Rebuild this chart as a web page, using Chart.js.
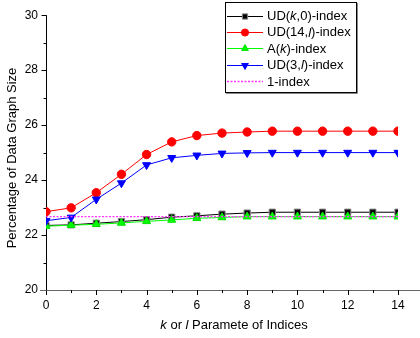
<!DOCTYPE html>
<html>
<head>
<meta charset="utf-8">
<script src="https://cdn.jsdelivr.net/npm/chart.js@4.4.1/dist/chart.umd.min.js"></script>
<style>
  html, body { margin: 0; padding: 0; background: #fff; }
  #wrap { width: 420px; height: 338px; }
</style>
</head>
<body>
<div id="wrap"><canvas id="indexChart" width="420" height="338"></canvas></div>
<script>
// parameter k or l
const params = [0, 1, 2, 3, 4, 5, 6, 7, 8, 9, 10, 11, 12, 13, 14];

// percentage of data graph size per index
const udK0 = [22.35, 22.37, 22.43, 22.49, 22.56, 22.65, 22.70, 22.76, 22.80, 22.83, 22.83, 22.83, 22.83, 22.83, 22.83];
const ud14L = [22.85, 22.99, 23.54, 24.21, 24.93, 25.39, 25.62, 25.71, 25.75, 25.78, 25.78, 25.78, 25.78, 25.78, 25.78];
const aK = [22.32, 22.36, 22.39, 22.44, 22.50, 22.55, 22.61, 22.64, 22.67, 22.67, 22.67, 22.67, 22.67, 22.67, 22.67];
const ud3L = [22.52, 22.64, 23.30, 23.89, 24.55, 24.81, 24.90, 24.97, 24.99, 25.00, 25.00, 25.00, 25.00, 25.00, 25.00];
const oneIndex = [22.67, 22.67, 22.67, 22.67, 22.67, 22.67, 22.67, 22.67, 22.67, 22.67, 22.67, 22.67, 22.67, 22.67, 22.67];

// legend labels, split into [text, italic] pieces
const legendLabels = [
  [['UD(', false], ['k', true], [',0)-index', false]],
  [['UD(14,', false], ['l', true], [')-index', false]],
  [['A(', false], ['k', true], [')-index', false]],
  [['UD(3,', false], ['l', true], [')-index', false]],
  [['1-index', false]]
];
const xTitle = [['k', true], [' or ', false], ['l', true], [' Paramete of Indices', false]];
const yTitle = 'Percentage of Data Graph Size';

const FONT = '"Liberation Sans", Arial, sans-serif';

function toPoints(arr) {
  return arr.map((v, i) => ({ x: params[i], y: v }));
}

function drawPieces(ctx, pieces, x, y, size) {
  for (const [txt, it] of pieces) {
    ctx.font = (it ? 'italic ' : '') + size + 'px ' + FONT;
    ctx.fillText(txt, x, y);
    x += ctx.measureText(txt).width;
  }
}

function piecesWidth(ctx, pieces, size) {
  let w = 0;
  for (const [txt, it] of pieces) {
    ctx.font = (it ? 'italic ' : '') + size + 'px ' + FONT;
    w += ctx.measureText(txt).width;
  }
  return w;
}

// axes lines, minor/major ticks, titles and the boxed legend
const decorations = {
  id: 'decorations',
  beforeDatasetsDraw(chart) {
    const ctx = chart.ctx;
    const xs = chart.scales.x, ys = chart.scales.y;
    const area = chart.chartArea;
    ctx.save();
    ctx.lineWidth = 1;
    // x axis
    ctx.strokeStyle = '#666';
    ctx.beginPath();
    ctx.moveTo(40, area.bottom + 0.5);
    ctx.lineTo(420, area.bottom + 0.5);
    ctx.stroke();
    for (let v = 0; v <= 14; v++) {
      const px = Math.round(xs.getPixelForValue(v)) + 0.5;
      const len = v % 2 === 0 ? 5 : 3;
      ctx.strokeStyle = '#000';
      ctx.beginPath();
      ctx.moveTo(px, area.bottom);
      ctx.lineTo(px, area.bottom + len);
      ctx.stroke();
    }
    // y axis
    ctx.strokeStyle = '#000';
    const ax = Math.round(area.left) + 0.5;
    ctx.beginPath();
    ctx.moveTo(ax, area.top);
    ctx.lineTo(ax, area.bottom);
    ctx.stroke();
    for (let v = 20; v <= 30; v++) {
      const py = Math.round(ys.getPixelForValue(v)) + 0.5;
      const len = v % 2 === 0 ? 5 : 3;
      ctx.strokeStyle = v === 20 ? '#666' : '#000';
      ctx.beginPath();
      ctx.moveTo(ax - len, py);
      ctx.lineTo(ax, py);
      ctx.stroke();
    }
    ctx.restore();
  },
  afterDraw(chart) {
    const ctx = chart.ctx;
    ctx.save();
    ctx.fillStyle = '#000';
    ctx.textBaseline = 'middle';
    // x title
    const w = piecesWidth(ctx, xTitle, 13);
    drawPieces(ctx, xTitle, 234 - w / 2, 325, 13);
    // y title
    ctx.translate(12, 158);
    ctx.rotate(-Math.PI / 2);
    ctx.font = '13px ' + FONT;
    ctx.textAlign = 'center';
    ctx.fillText(yTitle, 0, 0);
    ctx.restore();

    // legend box with a grey drop shadow
    ctx.save();
    ctx.fillStyle = '#fff';
    ctx.fillRect(225, 2, 131, 91);
    ctx.strokeStyle = '#000';
    ctx.lineWidth = 1;
    ctx.strokeRect(225.5, 2.5, 131, 90);
    ctx.strokeStyle = '#888';
    ctx.beginPath();
    ctx.moveTo(357.5, 3);
    ctx.lineTo(357.5, 93.5);
    ctx.lineTo(226, 93.5);
    ctx.stroke();
    chart.data.datasets.forEach((ds, i) => {
      const cy = 15.5 + i * 16.4;
      const ly = Math.round(cy) + 0.5;
      ctx.strokeStyle = ds.borderColor;
      ctx.lineWidth = ds.borderWidth;
      ctx.setLineDash(ds.borderDash || []);
      ctx.beginPath();
      ctx.moveTo(227, ly);
      ctx.lineTo(263, ly);
      ctx.stroke();
      ctx.setLineDash([]);
      if (ds.pointRadius > 0) {
        ctx.fillStyle = ds.pointBackgroundColor;
        ctx.strokeStyle = ds.pointBorderColor;
        ctx.lineWidth = 1;
        Chart.helpers.drawPoint(ctx, {
          pointStyle: ds.pointStyle,
          rotation: ds.pointRotation || 0,
          radius: ds.pointRadius * 0.85,
          borderWidth: 1
        }, 245, ly);
      }
      ctx.fillStyle = '#000';
      ctx.textBaseline = 'middle';
      drawPieces(ctx, legendLabels[i], 267, cy + 1, 13);
    });
    ctx.restore();
  }
};

new Chart(document.getElementById('indexChart').getContext('2d'), {
  type: 'line',
  data: {
    datasets: [
      {
        label: 'UD(k,0)-index', data: toPoints(udK0), order: 5,
        borderColor: '#000', borderWidth: 1,
        pointStyle: 'rect', pointRadius: 4.4, pointBackgroundColor: '#000', pointBorderColor: '#888', pointBorderWidth: 1
      },
      {
        label: 'UD(14,l)-index', data: toPoints(ud14L), order: 4,
        borderColor: '#ff0000', borderWidth: 1,
        pointStyle: 'circle', pointRadius: 4.2, pointBackgroundColor: '#ff0000', pointBorderColor: '#ff0000', pointBorderWidth: 1
      },
      {
        label: 'A(k)-index', data: toPoints(aK), order: 3,
        borderColor: '#00ff00', borderWidth: 1,
        pointStyle: 'triangle', pointRadius: 4.6, pointBackgroundColor: '#00ff00', pointBorderColor: '#00e000', pointBorderWidth: 1
      },
      {
        label: 'UD(3,l)-index', data: toPoints(ud3L), order: 2,
        borderColor: '#0000ff', borderWidth: 1,
        pointStyle: 'triangle', pointRotation: 180, pointRadius: 4.6, pointBackgroundColor: '#0000ff', pointBorderColor: '#0000ff', pointBorderWidth: 1
      },
      {
        label: '1-index', data: toPoints(oneIndex), order: 1,
        borderColor: '#ff33ff', borderWidth: 1.4, borderDash: [2, 1.5],
        pointRadius: 0, pointBackgroundColor: '#ff33ff', pointBorderColor: '#ff33ff'
      }
    ]
  },
  options: {
    responsive: false,
    animation: false,
    events: [],
    layout: { padding: { left: 0, right: 22, top: 9, bottom: 0 } },
    plugins: {
      legend: { display: false },
      tooltip: { enabled: false },
      decorations: {}
    },
    scales: {
      x: {
        type: 'linear', min: 0, max: 14,
        afterFit(scale) { scale.height = 48; },
        grid: { display: false, drawTicks: false },
        border: { display: false },
        ticks: {
          stepSize: 2, padding: 8, color: '#000',
          font: { family: FONT, size: 12 }
        }
      },
      y: {
        min: 20, max: 30,
        afterFit(scale) { scale.width = 46; },
        grid: { display: false, drawTicks: false },
        border: { display: false },
        ticks: {
          stepSize: 2, padding: 8, color: '#000',
          font: { family: FONT, size: 12 }
        }
      }
    }
  },
  plugins: [decorations]
});
</script>
</body>
</html>
